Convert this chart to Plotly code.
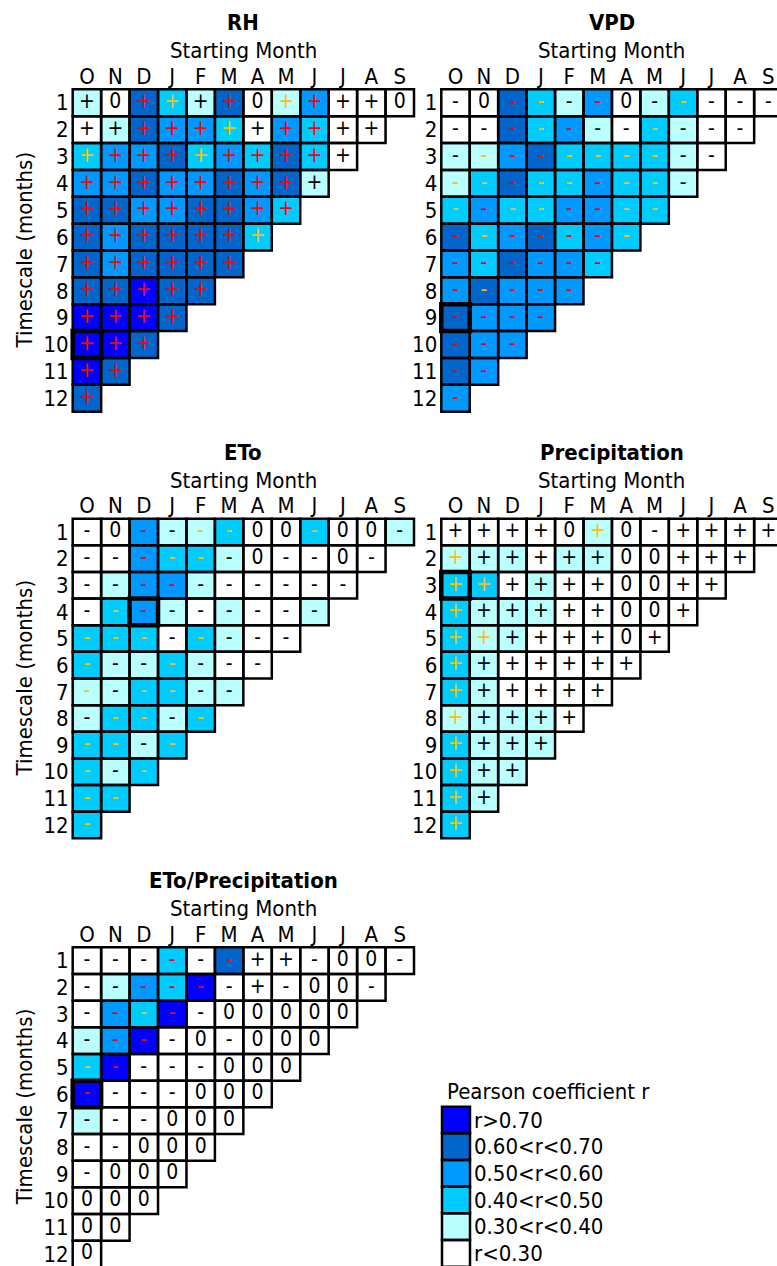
import plotly.graph_objects as go

W, H = 777, 1266
FONT = "DejaVu Sans Condensed, DejaVu Sans, sans-serif"

MONTHS = ["O", "N", "D", "J", "F", "M", "A", "M", "J", "J", "A", "S"]
TIMESCALES = [str(i) for i in range(1, 13)]

# correlation classes 0..5 (r<0.30 ... r>0.70)
CLASS_COLORS = ["#ffffff", "#b9ffff", "#00ccff", "#0099ff", "#0066cc", "#0000ff"]
CLASS_LABELS = ["r<0.30", "0.30<r<0.40", "0.40<r<0.50",
                "0.50<r<0.60", "0.60<r<0.70", "r>0.70"]
TONE_COLORS = {"k": "#000000", "o": "#ffc000", "r": "#ff0000"}

# ---- RH ----
RH_CLASS = [
    [1, 0, 4, 2, 1, 4, 0, 1, 3, 0, 0, 0],
    [0, 1, 4, 3, 3, 2, 0, 3, 2, 0, 0],
    [2, 3, 3, 4, 2, 3, 2, 4, 2, 0],
    [3, 3, 4, 3, 3, 4, 3, 4, 1],
    [4, 4, 3, 3, 4, 4, 3, 2],
    [4, 3, 4, 4, 4, 4, 2],
    [4, 3, 4, 4, 4, 4],
    [4, 4, 5, 4, 4],
    [5, 5, 5, 4],
    [5, 5, 4],
    [5, 4],
    [4],
]
RH_SIGN = ["+0++++0++++0", "+++++++++++", "++++++++++", "+++++++++",
           "++++++++", "+++++++", "++++++", "+++++", "++++", "+++", "++", "+"]
RH_TONE = ["kkrokrkorkkk", "kkrrrokrrkk", "orrrorrrrk", "rrrrrrrrk",
           "rrrrrrrr", "rrrrrro", "rrrrrr", "rrrrr", "rrrr", "rrr", "rr", "r"]

# ---- VPD ----
VPD_CLASS = [
    [0, 0, 4, 2, 1, 3, 0, 1, 2, 0, 0, 0],
    [0, 0, 4, 2, 3, 1, 0, 2, 1, 0, 0],
    [1, 1, 3, 4, 2, 2, 2, 2, 1, 0],
    [1, 2, 4, 2, 2, 3, 2, 2, 1],
    [2, 3, 2, 2, 3, 3, 2, 2],
    [4, 2, 3, 4, 2, 3, 2],
    [3, 2, 4, 3, 3, 2],
    [3, 4, 3, 3, 3],
    [4, 3, 3, 3],
    [4, 3, 3],
    [4, 3],
    [3],
]
VPD_SIGN = ["-0----0-----", "-----------", "----------", "---------",
            "--------", "-------", "------", "-----", "----", "---", "--", "-"]
VPD_TONE = ["kkrokrkkokkk", "kkrorkkokkk", "korrooookk", "ooroorook",
            "oroorroo", "rorrrro", "rrrrrr", "rorrr", "rrrr", "rrr", "rr", "r"]

# ---- ETo ----
ETO_CLASS = [
    [0, 0, 3, 1, 1, 2, 0, 0, 2, 0, 0, 1],
    [0, 0, 3, 2, 2, 1, 0, 0, 0, 0, 0],
    [0, 1, 3, 3, 1, 0, 0, 0, 0, 0],
    [0, 2, 3, 1, 0, 1, 0, 0, 1],
    [2, 2, 2, 0, 2, 1, 0, 0],
    [2, 1, 1, 2, 1, 0, 0],
    [1, 1, 2, 2, 1, 1],
    [1, 2, 2, 1, 2],
    [2, 2, 1, 2],
    [2, 1, 2],
    [2, 2],
    [2],
]
ETO_SIGN = ["-0----00-00-", "------0--0-", "----------", "---------",
            "--------", "-------", "------", "-----", "----", "---", "--", "-"]
ETO_TONE = ["kkrkookkokkk", "kkrookkkkkk", "kkrrkkkkkk", "korkkkkkk",
            "oookokkk", "okkokkk", "okookk", "kooko", "ooko", "oko", "oo", "o"]

# ---- Precipitation ----
PRE_CLASS = [
    [0, 0, 0, 0, 0, 1, 0, 0, 0, 0, 0, 0],
    [1, 1, 1, 0, 1, 1, 0, 0, 0, 0, 0],
    [2, 2, 0, 1, 0, 0, 0, 0, 0, 0],
    [2, 1, 1, 1, 0, 0, 0, 0, 0],
    [2, 1, 1, 0, 0, 0, 0, 0],
    [2, 1, 0, 0, 0, 0, 0],
    [2, 1, 0, 0, 0, 0],
    [1, 1, 1, 1, 0],
    [2, 1, 1, 1],
    [2, 1, 1],
    [2, 1],
    [2],
]
PRE_SIGN = ["++++0+0-++++", "++++++00+++", "++++++00++", "++++++00+",
            "++++++0+", "+++++++", "++++++", "+++++", "++++", "+++", "++", "+"]
PRE_TONE = ["kkkkkokkkkkk", "okkkkkkkkkk", "ookkkkkkkk", "okkkkkkkk",
            "ookkkkkk", "okkkkkk", "okkkkk", "okkkk", "okkk", "okk", "ok", "o"]

# ---- ETo/Precipitation ----
RAT_CLASS = [
    [0, 0, 0, 2, 0, 4, 0, 0, 0, 0, 0, 0],
    [0, 1, 3, 2, 5, 0, 0, 0, 0, 0, 0],
    [0, 3, 2, 5, 0, 0, 0, 0, 0, 0],
    [1, 3, 5, 0, 0, 0, 0, 0, 0],
    [2, 5, 0, 0, 0, 0, 0, 0],
    [5, 0, 0, 0, 0, 0, 0],
    [1, 0, 0, 0, 0, 0],
    [0, 0, 0, 0, 0],
    [0, 0, 0, 0],
    [0, 0, 0],
    [0, 0],
    [0],
]
RAT_SIGN = ["------++-00-", "------+-00-", "-----00000", "----0-000",
            "-----000", "----000", "---000", "--000", "-000", "000", "00", "0"]
RAT_TONE = ["kkkrkrkkkkkk", "kkrrrkkkkkk", "krorkkkkkk", "krrkkkkkk",
            "orkkkkkk", "rkkkkkk", "kkkkkk", "kkkkk", "kkkk", "kkk", "kk", "k"]

# (title, classes, signs, tones, highlighted (row, col), grid box in px: left, right, top, bottom)
PANELS = [
    ("RH", RH_CLASS, RH_SIGN, RH_TONE, (9, 0), (72.7, 414.0, 89.3, 411.7)),
    ("VPD", VPD_CLASS, VPD_SIGN, VPD_TONE, (8, 0), (441.3, 782.6, 89.3, 411.7)),
    ("ETo", ETO_CLASS, ETO_SIGN, ETO_TONE, (3, 2), (72.7, 414.0, 518.7, 838.3)),
    ("Precipitation", PRE_CLASS, PRE_SIGN, PRE_TONE, (2, 0), (441.3, 782.6, 518.7, 838.3)),
    ("ETo/Precipitation", RAT_CLASS, RAT_SIGN, RAT_TONE, (5, 0), (72.7, 414.0, 947.3, 1267.3)),
]
LEGEND_BOX = (442.0, 470.0, 1106.7, 1266.7)

n_cls = len(CLASS_COLORS)
colorscale = []
for i, c in enumerate(CLASS_COLORS):
    colorscale.append([i / n_cls, c])
    colorscale.append([(i + 1) / n_cls, c])


def place(box, ncols, nrows, pad=3.0):
    """Axis domains/ranges so that the grid lands on the given pixel box."""
    left, right, top, bottom = box
    cw = (right - left) / ncols
    rh = (bottom - top) / nrows
    xl, xr, yt, yb = left - pad, right + pad, top - pad, bottom + pad
    x_lo, x_hi = -0.5 - pad / cw, ncols - 0.5 + pad / cw
    y_lo, y_hi = -0.5 - pad / rh, nrows - 0.5 + pad / rh
    if xr > W:
        x_hi -= (xr - W) / cw
        xr = W
    if yb > H:
        y_hi -= (yb - H) / rh
        yb = H
    return dict(
        xdomain=[xl / W, xr / W], ydomain=[1 - yb / H, 1 - yt / H],
        xrange=[x_lo, x_hi], yrange=[y_hi, y_lo],
    )


fig = go.Figure()
shapes = []
annotations = []
TXT = 22
tick_font = dict(family=FONT, size=TXT, color="#000000")
CELL_LINE = 2.5

for k, (title, cls, sign, tone, hl, box) in enumerate(PANELS, start=1):
    xa, ya = f"x{k}", f"y{k}"
    geo = place(box, 12, 12)
    z = [[None] * 12 for _ in range(12)]
    tx, ty, tt, tc = [], [], [], []
    for r, row in enumerate(cls):
        for c, v in enumerate(row):
            z[r][c] = v
            tx.append(c)
            ty.append(r)
            tt.append(sign[r][c])
            tc.append(TONE_COLORS[tone[r][c]])
            shapes.append(dict(type="rect", xref=xa, yref=ya,
                               x0=c - 0.5, x1=c + 0.5, y0=r - 0.5, y1=r + 0.5,
                               line=dict(color="#000000", width=CELL_LINE),
                               fillcolor="rgba(0,0,0,0)", layer="above"))
    fig.add_trace(go.Heatmap(
        z=z, x=list(range(12)), y=list(range(12)),
        colorscale=colorscale, zmin=-0.5, zmax=n_cls - 0.5,
        showscale=False, hoverinfo="skip", xaxis=xa, yaxis=ya,
    ))
    fig.add_trace(go.Scatter(
        x=tx, y=ty, text=tt, mode="text",
        textfont=dict(family=FONT, size=21, color=tc),
        hoverinfo="skip", showlegend=False, xaxis=xa, yaxis=ya,
    ))
    hr, hc = hl
    shapes.append(dict(type="rect", xref=xa, yref=ya,
                       x0=hc - 0.5, x1=hc + 0.5, y0=hr - 0.5, y1=hr + 0.5,
                       line=dict(color="#000000", width=4.5),
                       fillcolor="rgba(0,0,0,0)", layer="above"))

    sfx = "" if k == 1 else str(k)
    fig.layout["xaxis" + sfx] = dict(
        domain=geo["xdomain"], range=geo["xrange"], anchor=ya, side="top",
        tickmode="array", tickvals=list(range(12)), ticktext=MONTHS,
        tickfont=tick_font, ticks="", ticklabelstandoff=-3,
        ticklabeloverflow="allow", showgrid=False, zeroline=False,
        showline=False, fixedrange=True,
    )
    fig.layout["yaxis" + sfx] = dict(
        domain=geo["ydomain"], range=geo["yrange"], anchor=xa,
        tickmode="array", tickvals=list(range(12)), ticktext=TIMESCALES,
        tickfont=tick_font, ticks="", ticklabeloverflow="allow",
        showgrid=False, zeroline=False, showline=False, fixedrange=True,
    )

    left, right, top, bottom = box
    cx = (left + right) / 2
    annotations.append(dict(text=f"<b>{title}</b>", x=cx / W, y=1 - (top - 66.3) / H,
                            xref="paper", yref="paper", showarrow=False,
                            xanchor="center", yanchor="middle",
                            font=dict(family=FONT, size=TXT, color="#000000")))
    annotations.append(dict(text="Starting Month", x=cx / W, y=1 - (top - 38.5) / H,
                            xref="paper", yref="paper", showarrow=False,
                            xanchor="center", yanchor="middle",
                            font=dict(family=FONT, size=TXT, color="#000000")))
    if left < 200:
        annotations.append(dict(text="Timescale (months)", x=24 / W,
                                y=1 - ((top + bottom) / 2) / H,
                                xref="paper", yref="paper", showarrow=False,
                                textangle=-90, xanchor="center", yanchor="middle",
                                font=dict(family=FONT, size=TXT, color="#000000")))

# ---- colour key ----
k = len(PANELS) + 1
xa, ya = f"x{k}", f"y{k}"
geo = place(LEGEND_BOX, 1, n_cls)
key_order = list(range(n_cls - 1, -1, -1))
fig.add_trace(go.Heatmap(
    z=[[v] for v in key_order], x=[0], y=list(range(n_cls)),
    colorscale=colorscale, zmin=-0.5, zmax=n_cls - 0.5,
    showscale=False, hoverinfo="skip", xaxis=xa, yaxis=ya,
))
for r in range(n_cls):
    shapes.append(dict(type="rect", xref=xa, yref=ya,
                       x0=-0.5, x1=0.5, y0=r - 0.5, y1=r + 0.5,
                       line=dict(color="#000000", width=CELL_LINE),
                       fillcolor="rgba(0,0,0,0)", layer="above"))
fig.layout["xaxis" + str(k)] = dict(
    domain=geo["xdomain"], range=geo["xrange"], anchor=ya,
    showticklabels=False, ticks="", showgrid=False, zeroline=False,
    showline=False, fixedrange=True,
)
fig.layout["yaxis" + str(k)] = dict(
    domain=geo["ydomain"], range=geo["yrange"], anchor=xa, side="right",
    tickmode="array", tickvals=list(range(n_cls)),
    ticktext=[CLASS_LABELS[v] for v in key_order],
    tickfont=tick_font, ticks="", ticklabeloverflow="allow",
    showgrid=False, zeroline=False, showline=False, fixedrange=True,
)
annotations.append(dict(text="Pearson coefficient r", x=445 / W, y=1 - 1091.7 / H,
                        xref="paper", yref="paper", showarrow=False,
                        xanchor="left", yanchor="middle",
                        font=dict(family=FONT, size=TXT, color="#000000")))

fig.update_layout(
    width=W, height=H, margin=dict(l=0, r=0, t=0, b=0),
    paper_bgcolor="#ffffff", plot_bgcolor="rgba(0,0,0,0)",
    showlegend=False, shapes=shapes, annotations=annotations,
    font=dict(family=FONT, color="#000000"),
)

fig.write_html("out.html", config={"displayModeBar": False})
